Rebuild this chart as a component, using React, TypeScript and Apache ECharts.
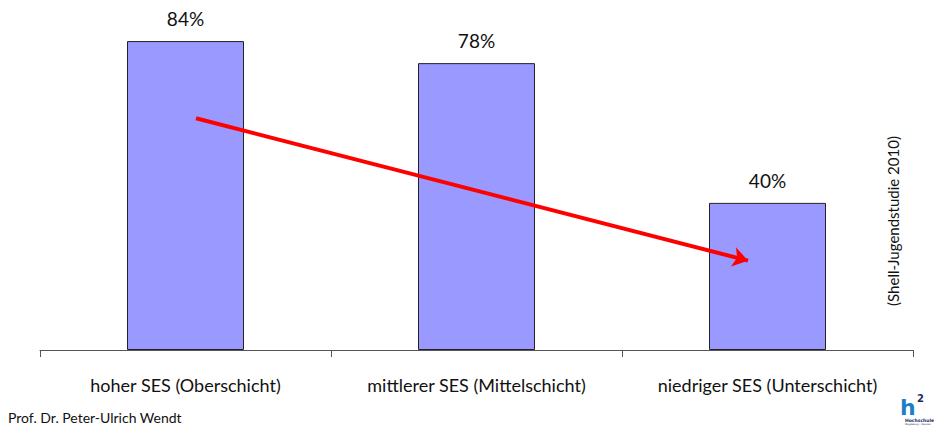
import React, { useEffect, useRef } from "react";
import * as echarts from "echarts";

const categories = [
  "hoher SES (Oberschicht)",
  "mittlerer SES (Mittelschicht)",
  "niedriger SES (Unterschicht)",
];
const values = [84, 78, 40];
const arrowStart = [0.536, 63];
const arrowEnd = [2.433, 24.3];
const sourceNote = "(Shell-Jugendstudie 2010)";
const footer = "Prof. Dr. Peter-Ulrich Wendt";

const FONT = "Lato, 'Noto Sans', sans-serif";
const LOGO_FONT = "'DejaVu Sans', sans-serif";

export default function App() {
  const ref = useRef<HTMLDivElement>(null);
  useEffect(() => {
    document.body.style.margin = "0";
    const chart = echarts.init(ref.current!, null, { renderer: "svg" });
    chart.setOption({
      animation: false,
      backgroundColor: "#ffffff",
      grid: { left: 40, right: 21, top: 19, bottom: 78 },
      xAxis: [
        {
          type: "category",
          data: categories,
          boundaryGap: true,
          axisLine: { lineStyle: { color: "#555", width: 1 } },
          axisTick: { show: true, length: 7, alignWithLabel: false, lineStyle: { color: "#555" } },
          axisLabel: { margin: 26, fontFamily: FONT, fontSize: 18, color: "#111" },
        },
        { type: "value", min: 0, max: 3, show: false },
      ],
      yAxis: [{ type: "value", min: 0, max: 90, show: false }],
      series: [
        {
          type: "bar",
          data: values,
          barWidth: 117,
          itemStyle: { color: "#9999ff", borderColor: "#222", borderWidth: 1 },
          label: {
            show: true,
            position: "top",
            distance: 13,
            formatter: "{c}%",
            fontFamily: FONT,
            fontSize: 19,
            color: "#111",
          },
          silent: true,
        },
        {
          type: "line",
          xAxisIndex: 1,
          data: [],
          silent: true,
          markLine: {
            silent: true,
            symbol: ["none", "arrow"],
            symbolSize: 15,
            label: { show: false },
            lineStyle: { color: "#ff0000", width: 4, type: "solid" },
            emphasis: { disabled: true },
            data: [[{ coord: arrowStart }, { coord: arrowEnd }]],
          },
        },
      ],
      graphic: [
        {
          type: "text",
          x: 893,
          y: 221,
          rotation: Math.PI / 2,
          style: {
            text: sourceNote,
            fontFamily: FONT,
            fontSize: 15,
            fill: "#111",
            align: "center",
            verticalAlign: "middle",
          },
        },
        {
          type: "text",
          left: 8,
          top: 410,
          style: { text: footer, fontFamily: FONT, fontSize: 14, fill: "#111" },
        },
        {
          type: "text",
          x: 900,
          y: 396,
          style: { text: "h", fontFamily: LOGO_FONT, fontWeight: "bold", fontSize: 22, fill: "#1a7fc8", verticalAlign: "top" },
        },
        {
          type: "text",
          x: 917,
          y: 393,
          style: { text: "2", fontFamily: LOGO_FONT, fontWeight: "bold", fontSize: 10, fill: "#1b2a5a", verticalAlign: "top" },
        },
        {
          type: "text",
          x: 905,
          y: 418,
          style: { text: "Hochschule", fontFamily: LOGO_FONT, fontWeight: "bold", fontSize: 4.5, fill: "#1b2a5a", verticalAlign: "top" },
        },
        {
          type: "text",
          x: 905,
          y: 423.5,
          style: { text: "Magdeburg • Stendal", fontFamily: LOGO_FONT, fontSize: 2.4, fill: "#1b2a5a", verticalAlign: "top" },
        },
      ],
    });
    return () => chart.dispose();
  }, []);
  return <div ref={ref} style={{ position: "fixed", left: 0, top: 0, width: 934, height: 428 }} />;
}
